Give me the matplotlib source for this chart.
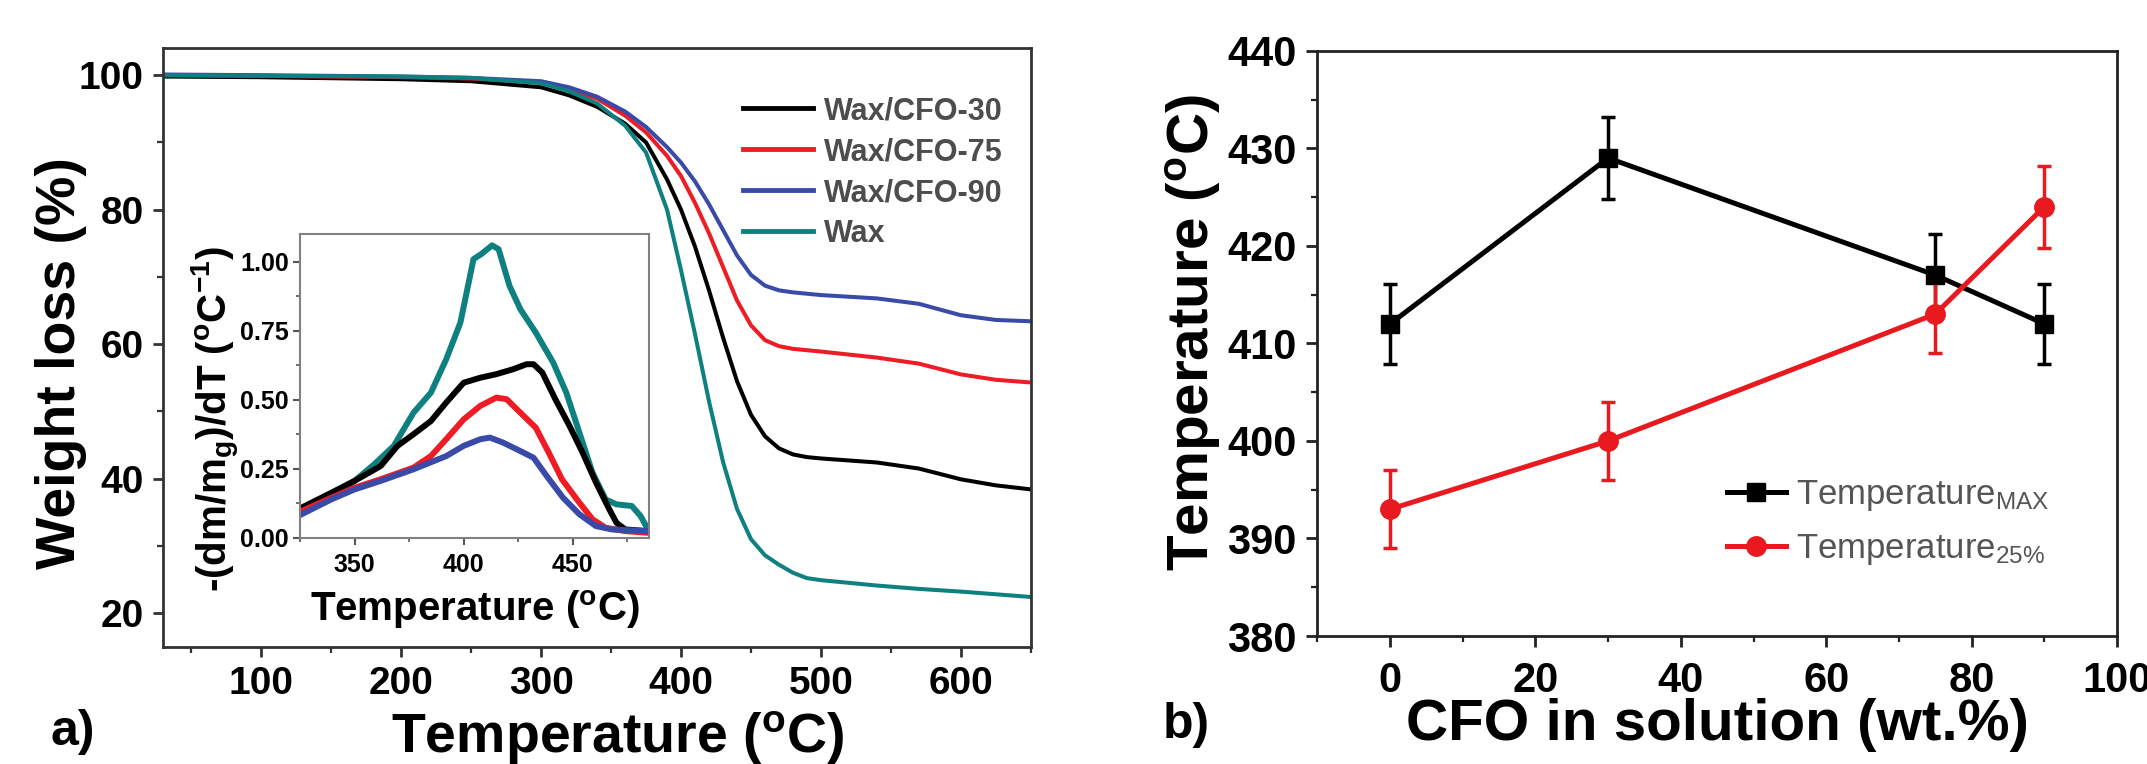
import matplotlib
matplotlib.use('Agg')
import matplotlib.pyplot as plt
from matplotlib.ticker import MultipleLocator

plt.rcParams['font.family'] = ['Liberation Sans', 'DejaVu Sans']
plt.rcParams['font.weight'] = 'bold'
plt.rcParams['axes.labelweight'] = 'bold'
plt.rcParams['mathtext.fontset'] = 'custom'
plt.rcParams['mathtext.rm'] = 'Liberation Sans:bold'
plt.rcParams['mathtext.it'] = 'Liberation Sans:bold'
plt.rcParams['mathtext.bf'] = 'Liberation Sans:bold'

# TGA curves (weight %)
temp = [30, 100, 200, 250, 300, 320, 340, 360, 375, 390, 400, 410, 420, 430,
        440, 450, 460, 470, 480, 490, 500, 540, 570, 600, 625, 650]
w_cfo30 = [99.8, 99.7, 99.4, 99.1, 98.2, 97.0, 95.3, 92.8, 90.0, 84.5, 80.0, 74.5, 68.0, 61.0,
           54.5, 49.5, 46.3, 44.5, 43.6, 43.2, 43.0, 42.4, 41.5, 39.9, 39.0, 38.4]
w_cfo75 = [100.0, 99.9, 99.7, 99.5, 98.9, 97.9, 96.5, 94.0, 91.5, 88.0, 85.0, 81.0, 76.5, 71.5,
           66.5, 62.8, 60.6, 59.7, 59.3, 59.1, 58.9, 58.0, 57.1, 55.5, 54.7, 54.3]
w_cfo90 = [100.1, 100.0, 99.8, 99.6, 99.1, 98.2, 96.8, 94.6, 92.3, 89.3, 87.0, 84.2, 80.8, 77.0,
           73.2, 70.3, 68.7, 68.0, 67.7, 67.5, 67.3, 66.8, 66.0, 64.3, 63.6, 63.4]
w_wax = [100.0, 99.9, 99.8, 99.6, 98.8, 97.6, 95.8, 92.5, 88.5, 80.0, 71.0, 61.5, 51.5, 42.5,
         35.5, 31.0, 28.6, 27.2, 26.0, 25.2, 24.9, 24.1, 23.6, 23.2, 22.8, 22.4]

# DTG inset
t_wax = [325.8, 339.4, 350, 359, 368, 377, 385, 392, 398.5, 404.5, 408, 413, 416, 421, 426,
         433, 441, 447, 453, 459, 465, 470, 477, 481, 484]
d_wax = [0.093, 0.151, 0.206, 0.266, 0.333, 0.453, 0.526, 0.647, 0.78, 1.01, 1.028, 1.06, 1.046,
         0.913, 0.828, 0.744, 0.635, 0.526, 0.381, 0.236, 0.139, 0.121, 0.115, 0.079, 0.036]
t_30 = [325.8, 339.4, 350, 362, 369.7, 377, 385, 392, 400, 407.6, 415, 422.7, 428.8, 432, 436,
        442, 448.5, 454.5, 460.6, 466.7, 470, 474, 484]
d_30 = [0.109, 0.163, 0.206, 0.26, 0.333, 0.375, 0.423, 0.49, 0.562, 0.58, 0.593, 0.611, 0.629,
        0.629, 0.599, 0.502, 0.405, 0.308, 0.2, 0.103, 0.054, 0.03, 0.024]
t_75 = [325.8, 339.4, 350, 362, 377, 385, 392, 400, 407.6, 415, 419.7, 426, 433, 439, 445, 453,
        459, 465, 474, 484]
d_75 = [0.097, 0.145, 0.181, 0.212, 0.254, 0.296, 0.357, 0.429, 0.478, 0.508, 0.502, 0.453,
        0.399, 0.308, 0.212, 0.127, 0.067, 0.036, 0.024, 0.018]
t_90 = [325.8, 339.4, 350, 362, 377, 392, 400, 407.6, 412, 418, 426, 432, 438, 445.5, 453,
        460.6, 468, 484]
d_90 = [0.085, 0.139, 0.175, 0.206, 0.248, 0.296, 0.333, 0.357, 0.363, 0.345, 0.314, 0.29,
        0.224, 0.145, 0.085, 0.042, 0.03, 0.024]

# panel b
cfo = [0, 30, 75, 90]
t_max = [412, 429, 417, 412]
t_max_err = [4.1, 4.2, 4.2, 4.1]
t_25 = [393, 400, 413, 424]
t_25_err = [4, 4, 4, 4.2]

c_black = '#000000'
c_red = '#ee1c24'
c_blue = '#3a4aa8'
c_teal = '#0f8080'

fig = plt.figure(figsize=(21.47, 7.64), dpi=100)
ax1 = fig.add_axes([0.0761, 0.1535, 0.4040, 0.7833])
ax_in = fig.add_axes([0.1397, 0.2962, 0.1627, 0.3971])
ax2 = fig.add_axes([0.6136, 0.1675, 0.3724, 0.7661])

# main TGA
ax1.plot(temp, w_cfo30, color=c_black, lw=2.9, label='Wax/CFO-30')
ax1.plot(temp, w_cfo75, color=c_red, lw=2.9, label='Wax/CFO-75')
ax1.plot(temp, w_cfo90, color=c_blue, lw=2.9, label='Wax/CFO-90')
ax1.plot(temp, w_wax, color=c_teal, lw=2.9, label='Wax')
ax1.set_xlim(30, 650)
ax1.set_ylim(15, 104)
ax1.xaxis.set_major_locator(MultipleLocator(100))
ax1.xaxis.set_minor_locator(MultipleLocator(50))
ax1.yaxis.set_major_locator(MultipleLocator(20))
ax1.yaxis.set_minor_locator(MultipleLocator(10))
ax1.tick_params(which='major', direction='out', length=7, width=2, labelsize=28, pad=7, color='#333333')
ax1.tick_params(which='minor', direction='out', length=4.5, width=1.6, color='#333333')
for s in ax1.spines.values():
    s.set_linewidth(2)
    s.set_color('#333333')
ax1.set_xlabel(r'Temperature ($\mathregular{^o}$C)', fontsize=40)
ax1.set_ylabel('Weight loss (%)', fontsize=40)
ax1.xaxis.set_label_coords(0.524, -0.106)
ax1.yaxis.set_label_coords(-0.088, 0.474)
leg1 = ax1.legend(loc='upper left', bbox_to_anchor=(0.668, 0.92), frameon=False, fontsize=22,
                  handlelength=2.3, handletextpad=0.35, labelspacing=0.36, borderpad=0,
                  borderaxespad=0)
for t in leg1.get_texts():
    t.set_color('#4d4d4d')
for l in leg1.get_lines():
    l.set_linewidth(3.5)

# inset DTG
ax_in.plot(t_wax, d_wax, color=c_teal, lw=4.3)
ax_in.plot(t_30, d_30, color=c_black, lw=4.3)
ax_in.plot(t_75, d_75, color=c_red, lw=4.3)
ax_in.plot(t_90, d_90, color=c_blue, lw=4.3)
ax_in.set_xlim(325, 485)
ax_in.set_ylim(0, 1.1)
ax_in.xaxis.set_major_locator(MultipleLocator(50))
ax_in.xaxis.set_minor_locator(MultipleLocator(25))
ax_in.yaxis.set_major_locator(MultipleLocator(0.25))
ax_in.yaxis.set_minor_locator(MultipleLocator(0.125))
ax_in.yaxis.set_major_formatter(plt.FormatStrFormatter('%.2f'))
ax_in.tick_params(which='major', direction='out', length=5, width=1.5, labelsize=18, pad=3, color='#555555')
ax_in.tick_params(axis='x', which='major', pad=6)
ax_in.tick_params(which='minor', direction='out', length=3, width=1.2, color='#555555')
for s in ax_in.spines.values():
    s.set_linewidth(1.5)
    s.set_color('#808080')
ax_in.set_xlabel(r'Temperature ($\mathregular{^o}$C)', fontsize=29)
ax_in.set_ylabel(r'-(dm/m$\mathregular{_g}$)/dT ($\mathregular{^o}$C$\mathregular{^{-1}}$)', fontsize=29)
ax_in.xaxis.set_label_coords(0.5, -0.165)
ax_in.yaxis.set_label_coords(-0.166, 0.39)

# panel b
eb1 = ax2.errorbar(cfo, t_max, yerr=t_max_err, fmt='-s', color=c_black, lw=3.6, ms=13,
                   elinewidth=2.5, capsize=5, capthick=2.5)
eb2 = ax2.errorbar(cfo, t_25, yerr=t_25_err, fmt='-o', color='#e8191f', lw=3.6, ms=14,
                   elinewidth=2.5, capsize=5, capthick=2.5)
ax2.set_xlim(-10, 100)
ax2.set_ylim(380, 440)
ax2.xaxis.set_major_locator(MultipleLocator(20))
ax2.xaxis.set_minor_locator(MultipleLocator(10))
ax2.yaxis.set_major_locator(MultipleLocator(10))
ax2.yaxis.set_minor_locator(MultipleLocator(5))
ax2.tick_params(which='major', direction='out', length=8, width=2, labelsize=30, color='#222222')
ax2.tick_params(axis='y', which='major', pad=7)
ax2.tick_params(axis='x', which='major', pad=10)
ax2.tick_params(which='minor', direction='out', length=4, width=1.6, color='#222222')
for s in ax2.spines.values():
    s.set_linewidth(2)
    s.set_color('#222222')
ax2.set_xlabel('CFO in solution (wt.%)', fontsize=42)
ax2.set_ylabel(r'Temperature ($\mathregular{^o}$C)', fontsize=42)
ax2.xaxis.set_label_coords(0.5, -0.106)
ax2.yaxis.set_label_coords(-0.118, 0.519)
leg2 = ax2.legend([eb1[0], eb2[0]], [r'Temperature$\mathregular{_{MAX}}$', r'Temperature$\mathregular{_{25\%}}$'],
                  loc='upper left', bbox_to_anchor=(0.512, 0.27), frameon=False,
                  prop={'family': ['Liberation Sans Narrow', 'Liberation Sans'], 'weight': 'normal', 'size': 25},
                  handlelength=1.7, handletextpad=0.3, labelspacing=0.55, borderpad=0, borderaxespad=0)
for t in leg2.get_texts():
    t.set_color('#555555')

fig.text(51 / 2147, 1 - 745 / 764, 'a)', fontsize=36, va='baseline')
fig.text(1163 / 2147, 1 - 738 / 764, 'b)', fontsize=36, va='baseline')

fig.savefig('out.png', dpi=100)
